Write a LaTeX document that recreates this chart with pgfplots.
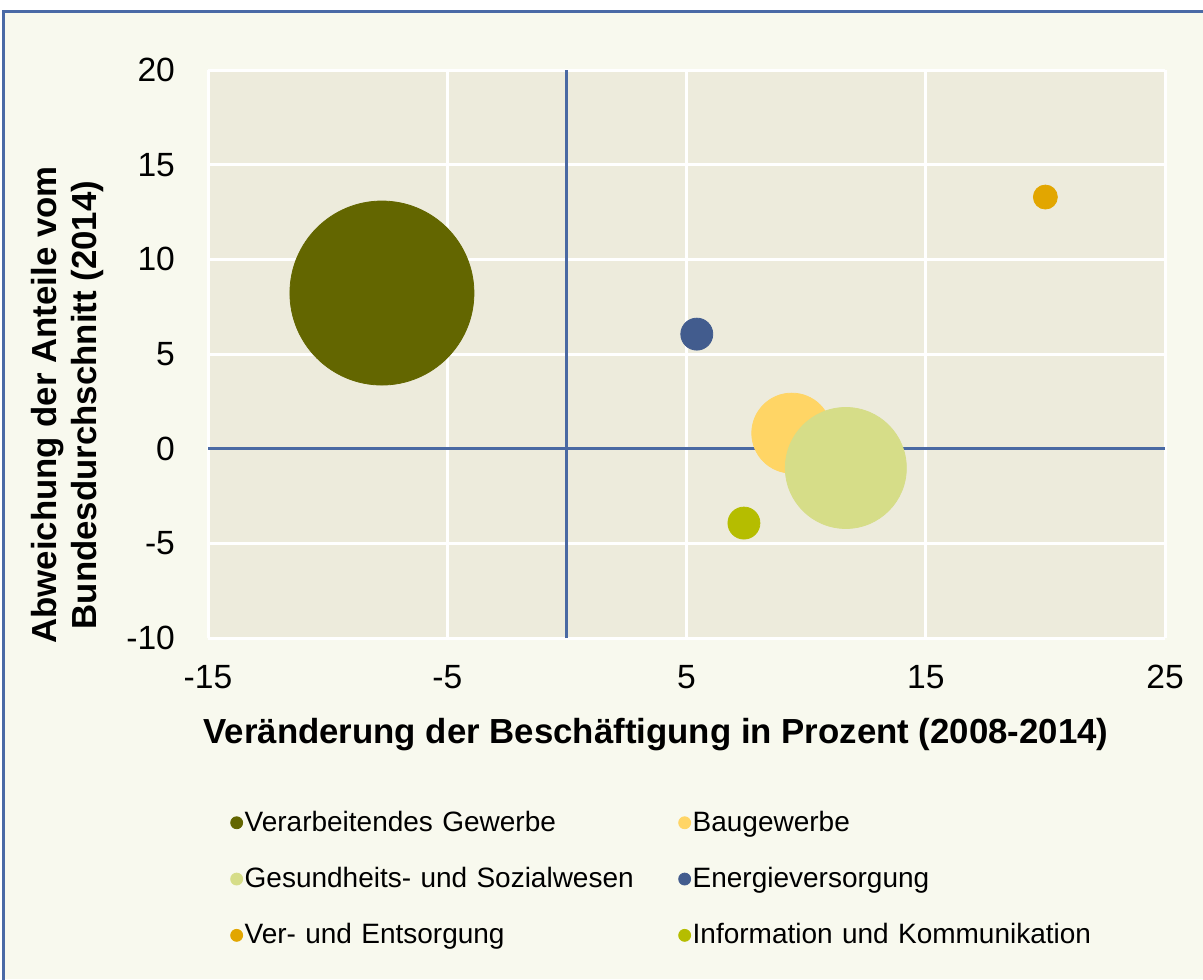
\documentclass[border=0pt]{standalone}
\usepackage{fontspec}
\setmainfont{Liberation Sans}
\usepackage{pgfplots}
\pgfplotsset{compat=1.18}

\definecolor{outerbg}{HTML}{F8F9EE}
\definecolor{plotbg}{HTML}{EDEBDC}
\definecolor{framebl}{HTML}{4A6AA6}
\definecolor{axisbl}{HTML}{4A69A3}
\definecolor{cverarb}{HTML}{636600}
\definecolor{cbau}{HTML}{FFD565}
\definecolor{cgesund}{HTML}{D6DD88}
\definecolor{cenergie}{HTML}{425C8E}
\definecolor{cver}{HTML}{E2A600}
\definecolor{cinfo}{HTML}{B5BD00}

\begin{document}
\begin{tikzpicture}
% page and frame (1 px of the reference = 0.5pt)
\useasboundingbox (-104pt,-170.5pt) rectangle (497.5pt,319pt);
\fill[white] (-104pt,-170.5pt) rectangle (497.5pt,319pt);
\fill[outerbg] (-102pt,-170.5pt) rectangle (497.5pt,313pt);
\draw[framebl, line width=1.5pt] (-102pt,-172pt) -- (-102pt,313pt) -- (499pt,313pt);

\begin{axis}[
    scale only axis,
    width=478.5pt, height=284pt,
    xmin=-15, xmax=25, ymin=-10, ymax=20,
    xtick={-15,-5,5,15,25},
    ytick={-10,-5,0,5,10,15,20},
    axis background/.style={fill=plotbg},
    axis line style={draw=none},
    major tick length=0pt,
    grid=major,
    major grid style={white, line width=1.5pt},
    tick label style={font=\fontsize{16.8}{19}\selectfont},
    /pgf/number format/assume math mode=true,
    yticklabel style={xshift=-13pt},
    xticklabel style={yshift=-10pt},
    legend columns=2,
    legend cell align=left,
    legend style={at={(axis description cs:0.017,-0.29)}, anchor=north west,
        draw=none, fill=none,
        font=\fontsize{14}{16}\selectfont,
        text width=216pt,
        row sep=12.5pt,
        nodes={inner xsep=1pt}},
    legend image code/.code={\draw[mark repeat=2, mark phase=2] plot coordinates {(0pt,0pt) (3pt,0pt) (6pt,0pt)};},
    legend image post style={mark size=3pt},
    clip=false,
]
% axis lines through zero
\addplot[forget plot, axisbl, line width=1.5pt] coordinates {(0,-10) (0,20)};
\addplot[forget plot, axisbl, line width=1.5pt] coordinates {(-15,0) (25,0)};

\addplot[only marks, mark=*, mark size=46pt, color=cverarb, mark options={draw=none, fill=cverarb}]
    coordinates {(-7.73,8.22)};
\addlegendentry{Verarbeitendes Gewerbe}
\addplot[only marks, mark=*, mark size=20pt, color=cbau, mark options={draw=none, fill=cbau}]
    coordinates {(9.40,0.82)};
\addlegendentry{Baugewerbe}
\addplot[only marks, mark=*, mark size=30.25pt, color=cgesund, mark options={draw=none, fill=cgesund}]
    coordinates {(11.66,-1.02)};
\addlegendentry{Gesundheits- und Sozialwesen}
\addplot[only marks, mark=*, mark size=8pt, color=cenergie, mark options={draw=none, fill=cenergie}]
    coordinates {(5.43,6.05)};
\addlegendentry{Energieversorgung}
\addplot[only marks, mark=*, mark size=6pt, color=cver, mark options={draw=none, fill=cver}]
    coordinates {(20.0,13.29)};
\addlegendentry{Ver- und Entsorgung}
\addplot[only marks, mark=*, mark size=8pt, color=cinfo, mark options={draw=none, fill=cinfo}]
    coordinates {(7.4,-3.93)};
\addlegendentry{Information und Kommunikation}
\end{axis}

% axis titles
\node[anchor=base, font=\bfseries\fontsize{17.4}{20}\selectfont] at (224pt,-52.5pt)
    {Veränderung der Beschäftigung in Prozent (2008-2014)};
\node[rotate=90, align=center, font=\bfseries\fontsize{17.4}{20}\selectfont] at (-70pt,116.5pt)
    {Abweichung der Anteile vom\\Bundesdurchschnitt (2014)};
\end{tikzpicture}
\end{document}
